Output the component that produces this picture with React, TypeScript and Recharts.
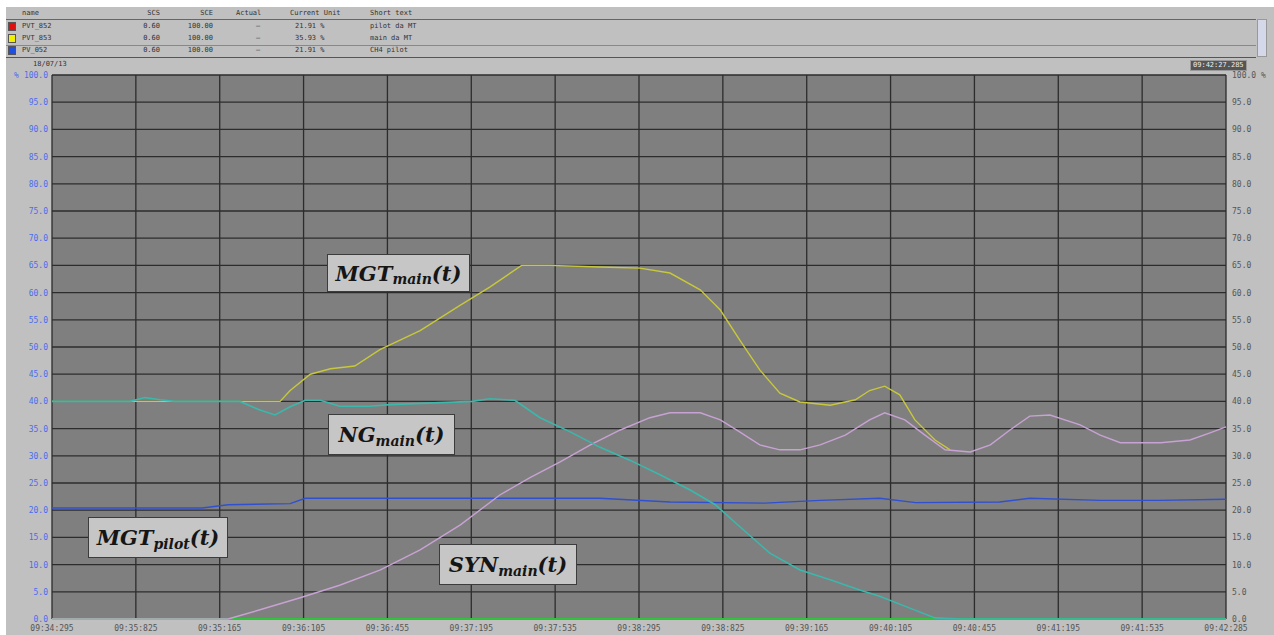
import React from 'react';
import { LineChart, Line, XAxis, YAxis, CartesianGrid } from 'recharts';

const W = 1274;
const H = 635;

// x positions are in grid divisions (0..14), values in %
const timeLabels = [
  '09:34:295', '09:35:825', '09:35:165', '09:36:105', '09:36:455',
  '09:37:195', '09:37:535', '09:38:295', '09:38:825', '09:39:165',
  '09:40:105', '09:40:455', '09:41:195', '09:41:535', '09:42:285',
];
const timeTicks = timeLabels.map((_, i) => i);
const percentTicks = [0, 5, 10, 15, 20, 25, 30, 35, 40, 45, 50, 55, 60, 65, 70, 75, 80, 85, 90, 95, 100];

const mgtMain = [
  { t: 0, v: 40 }, { t: 2.24, v: 40 }, { t: 2.72, v: 40 }, { t: 2.84, v: 42 },
  { t: 3.08, v: 45 }, { t: 3.32, v: 46 }, { t: 3.61, v: 46.5 }, { t: 3.91, v: 49.5 },
  { t: 4.39, v: 53 }, { t: 4.87, v: 57.7 }, { t: 5.22, v: 61 }, { t: 5.6, v: 65 },
  { t: 5.94, v: 65 }, { t: 6.53, v: 64.7 }, { t: 7.01, v: 64.5 }, { t: 7.37, v: 63.6 },
  { t: 7.73, v: 60.5 }, { t: 7.97, v: 56.8 }, { t: 8.2, v: 51.3 }, { t: 8.44, v: 45.8 },
  { t: 8.68, v: 41.5 }, { t: 8.92, v: 39.9 }, { t: 9.28, v: 39.3 }, { t: 9.58, v: 40.3 },
  { t: 9.75, v: 42 }, { t: 9.93, v: 42.8 }, { t: 10.11, v: 41.2 }, { t: 10.29, v: 36.6 },
  { t: 10.53, v: 32.9 }, { t: 10.71, v: 31.1 },
];

const ngMain = [
  { t: 0, v: 40 }, { t: 0.93, v: 40 }, { t: 1.11, v: 40.7 }, { t: 1.29, v: 40.3 },
  { t: 1.46, v: 40 }, { t: 2.24, v: 40 }, { t: 2.48, v: 38.4 }, { t: 2.66, v: 37.5 },
  { t: 2.84, v: 39 }, { t: 3.02, v: 40.2 }, { t: 3.2, v: 40.2 }, { t: 3.43, v: 39.1 },
  { t: 3.79, v: 39.1 }, { t: 4.03, v: 39.4 }, { t: 5.01, v: 40 }, { t: 5.22, v: 40.5 },
  { t: 5.52, v: 40.2 }, { t: 5.82, v: 37 }, { t: 6.18, v: 34.4 }, { t: 6.53, v: 31.6 },
  { t: 6.89, v: 29.2 }, { t: 7.25, v: 26.5 }, { t: 7.61, v: 23.7 }, { t: 7.91, v: 21 },
  { t: 8.2, v: 17 }, { t: 8.56, v: 12.1 }, { t: 8.92, v: 9 }, { t: 9.28, v: 7.2 },
  { t: 9.64, v: 5.3 }, { t: 9.87, v: 4.2 }, { t: 10.23, v: 2 }, { t: 10.53, v: 0.2 },
  { t: 10.82, v: 0 }, { t: 14, v: 0 },
];

const synMain = [
  { t: 0, v: 0 }, { t: 2.1, v: 0 }, { t: 2.48, v: 1.7 }, { t: 2.96, v: 3.9 },
  { t: 3.43, v: 6.2 }, { t: 3.91, v: 9 }, { t: 4.39, v: 12.7 }, { t: 4.87, v: 17.3 },
  { t: 5.34, v: 22.8 }, { t: 5.7, v: 26 }, { t: 6.06, v: 28.9 }, { t: 6.42, v: 32 },
  { t: 6.77, v: 34.7 }, { t: 7.13, v: 37 }, { t: 7.37, v: 37.9 }, { t: 7.73, v: 37.9 },
  { t: 7.97, v: 36.6 }, { t: 8.2, v: 34.4 }, { t: 8.44, v: 32 }, { t: 8.68, v: 31.1 },
  { t: 8.92, v: 31.1 }, { t: 9.16, v: 32 }, { t: 9.46, v: 33.8 }, { t: 9.75, v: 36.6 },
  { t: 9.93, v: 37.9 }, { t: 10.17, v: 36.6 }, { t: 10.41, v: 33.8 }, { t: 10.65, v: 31.1 },
  { t: 10.95, v: 30.7 }, { t: 11.19, v: 32 }, { t: 11.42, v: 34.7 }, { t: 11.66, v: 37.3 },
  { t: 11.9, v: 37.5 }, { t: 12.26, v: 35.7 }, { t: 12.5, v: 33.8 }, { t: 12.74, v: 32.4 },
  { t: 13.22, v: 32.4 }, { t: 13.57, v: 32.9 }, { t: 13.81, v: 34.2 }, { t: 14, v: 35.3 },
];

const mgtPilot = [
  { t: 0, v: 20.4 }, { t: 1.79, v: 20.4 }, { t: 2.1, v: 21 }, { t: 2.84, v: 21.2 },
  { t: 3.02, v: 22.2 }, { t: 6.53, v: 22.2 }, { t: 7.37, v: 21.5 }, { t: 8.5, v: 21.3 },
  { t: 9.16, v: 21.8 }, { t: 9.87, v: 22.2 }, { t: 10.3, v: 21.4 }, { t: 11.3, v: 21.5 },
  { t: 11.66, v: 22.2 }, { t: 12.5, v: 21.8 }, { t: 13.2, v: 21.8 }, { t: 14, v: 22 },
];

const baseline = [{ t: 0, v: 0 }, { t: 14, v: 0 }];

const headerCols = [
  { label: 'name', x: 22, align: 'left' },
  { label: 'SCS', x: 160, align: 'right' },
  { label: 'SCE', x: 213, align: 'right' },
  { label: 'Actual', x: 236, align: 'left' },
  { label: 'Current Unit', x: 290, align: 'left' },
  { label: 'Short text', x: 370, align: 'left' },
];

const tagRows = [
  { name: 'PVT_852', color: '#e01010', scs: '0.60', sce: '100.00', actual: '–', current: '21.91 %', text: 'pilot da MT' },
  { name: 'PVT_853', color: '#f0f000', scs: '0.60', sce: '100.00', actual: '–', current: '35.93 %', text: 'main da MT' },
  { name: 'PV_052', color: '#2050e0', scs: '0.60', sce: '100.00', actual: '–', current: '21.91 %', text: 'CH4 pilot' },
];

const tiny: React.CSSProperties = {
  position: 'absolute',
  fontFamily: '"DejaVu Sans Mono", monospace',
  fontSize: 7,
  color: '#333',
  whiteSpace: 'nowrap',
  lineHeight: '9px',
};

const LeftTick = (props: any) => {
  const { x, y, payload } = props;
  const v = payload.value as number;
  return (
    <g>
      {v === 100 && (
        <text x={14} y={y} dy={3} fontSize={8} fill="#4a6cf0" fontFamily="DejaVu Sans Mono">%</text>
      )}
      <text x={x} y={y} dy={3} textAnchor="end" fontSize={8} fill="#4a6cf0" fontFamily="DejaVu Sans Mono">
        {v.toFixed(1)}
      </text>
    </g>
  );
};

const RightTick = (props: any) => {
  const { x, y, payload } = props;
  const v = payload.value as number;
  return (
    <text x={x} y={y} dy={3} fontSize={8} fill="#555" fontFamily="DejaVu Sans Mono">
      {v === 100 ? '100.0 %' : v.toFixed(1)}
    </text>
  );
};

const TimeTick = (props: any) => {
  const { x, y, payload } = props;
  return (
    <text x={x} y={y} dy={8} textAnchor="middle" fontSize={8} fill="#555" fontFamily="DejaVu Sans Mono">
      {timeLabels[payload.value]}
    </text>
  );
};

const SignalTag = ({ left, top, width, height, name, sub }: any) => (
  <div
    style={{
      position: 'absolute',
      left,
      top,
      width,
      height,
      boxSizing: 'border-box',
      background: '#c6c6c6',
      border: '1px solid #3c3c3c',
      display: 'flex',
      alignItems: 'center',
      justifyContent: 'center',
      fontFamily: '"DejaVu Serif", serif',
      fontStyle: 'italic',
      fontWeight: 'bold',
      fontSize: 21,
      color: '#151515',
    }}
  >
    <span>{name}</span>
    <span style={{ fontSize: 14, position: 'relative', top: 6 }}>{sub}</span>
    <span>(t)</span>
  </div>
);

export default function App() {
  return (
    <div style={{ position: 'absolute', left: 0, top: 0, width: W, height: H, background: '#c0c0c0', overflow: 'hidden' }}>
      <div style={{ position: 'absolute', left: 0, top: 0, width: W, height: 7, background: '#fff' }} />
      <div style={{ position: 'absolute', left: 0, top: 0, width: 6, height: H, background: '#fff' }} />

      {/* tag table */}
      <div style={{ position: 'absolute', left: 6, top: 19, width: 1250, height: 1, background: '#666' }} />
      <div style={{ position: 'absolute', left: 6, top: 45, width: 1250, height: 1, background: '#888' }} />
      <div style={{ position: 'absolute', left: 6, top: 57, width: 1250, height: 1, background: '#555' }} />
      <div style={{ position: 'absolute', left: 1257, top: 19, width: 10, height: 38, background: '#d4d8e8', border: '1px solid #999', boxSizing: 'border-box' }} />
      {headerCols.map((c) => (
        <div key={c.label} style={{ ...tiny, top: 9, ...(c.align === 'right' ? { right: W - c.x } : { left: c.x }) }}>
          {c.label}
        </div>
      ))}
      {tagRows.map((r, i) => {
        const top = 22 + i * 12;
        return (
          <React.Fragment key={r.name}>
            <div style={{ position: 'absolute', left: 8, top, width: 8, height: 9, background: r.color, border: '1px solid #555', boxSizing: 'border-box' }} />
            <div style={{ ...tiny, left: 22, top }}>{r.name}</div>
            <div style={{ ...tiny, right: W - 160, top }}>{r.scs}</div>
            <div style={{ ...tiny, right: W - 213, top }}>{r.sce}</div>
            <div style={{ ...tiny, left: 256, top }}>{r.actual}</div>
            <div style={{ ...tiny, left: 295, top }}>{r.current}</div>
            <div style={{ ...tiny, left: 370, top }}>{r.text}</div>
          </React.Fragment>
        );
      })}
      <div style={{ ...tiny, left: 33, top: 60 }}>18/07/13</div>
      <div style={{ ...tiny, left: 1190, top: 60, background: '#555', color: '#eee', padding: '0 2px', border: '1px solid #999' }}>
        09:42:27.285
      </div>

      <div style={{ position: 'absolute', left: 0, top: 0 }}>
        <LineChart width={W} height={H} margin={{ top: 75, right: 0, bottom: 0, left: 0 }}>
          <CartesianGrid stroke="#2c2c2c" strokeWidth={1.3} fill="#7f7f7f" fillOpacity={1} />
          <XAxis
            dataKey="t"
            type="number"
            domain={[0, 14]}
            ticks={timeTicks}
            height={16}
            axisLine={false}
            tickLine={false}
            tickSize={0}
            tickMargin={4}
            tick={<TimeTick />}
            interval={0}
          />
          <YAxis
            type="number"
            domain={[0, 100]}
            ticks={percentTicks}
            width={52}
            axisLine={false}
            tickLine={false}
            tickSize={0}
            tickMargin={4}
            tick={<LeftTick />}
            interval={0}
          />
          <YAxis
            yAxisId="right"
            orientation="right"
            type="number"
            domain={[0, 100]}
            ticks={percentTicks}
            width={48}
            axisLine={false}
            tickLine={false}
            tickSize={0}
            tickMargin={6}
            tick={<RightTick />}
            interval={0}
          />
          <Line yAxisId="right" data={baseline} dataKey="v" stroke="#2fc23a" strokeWidth={2} dot={false} isAnimationActive={false} />
          <Line data={mgtPilot} dataKey="v" stroke="#3050d0" strokeWidth={1.4} dot={false} isAnimationActive={false} />
          <Line data={mgtMain} dataKey="v" stroke="#c8c83a" strokeWidth={1.4} dot={false} isAnimationActive={false} />
          <Line data={synMain} dataKey="v" stroke="#c8a2d4" strokeWidth={1.4} dot={false} isAnimationActive={false} />
          <Line data={ngMain} dataKey="v" stroke="#3ab8ac" strokeWidth={1.6} dot={false} isAnimationActive={false} />
        </LineChart>
      </div>

      <SignalTag left={327} top={254} width={143} height={38} name="MGT" sub="main" />
      <SignalTag left={328} top={414} width={127} height={41} name="NG" sub="main" />
      <SignalTag left={88} top={517} width={140} height={41} name="MGT" sub="pilot" />
      <SignalTag left={439} top={544} width={138} height={41} name="SYN" sub="main" />
    </div>
  );
}
